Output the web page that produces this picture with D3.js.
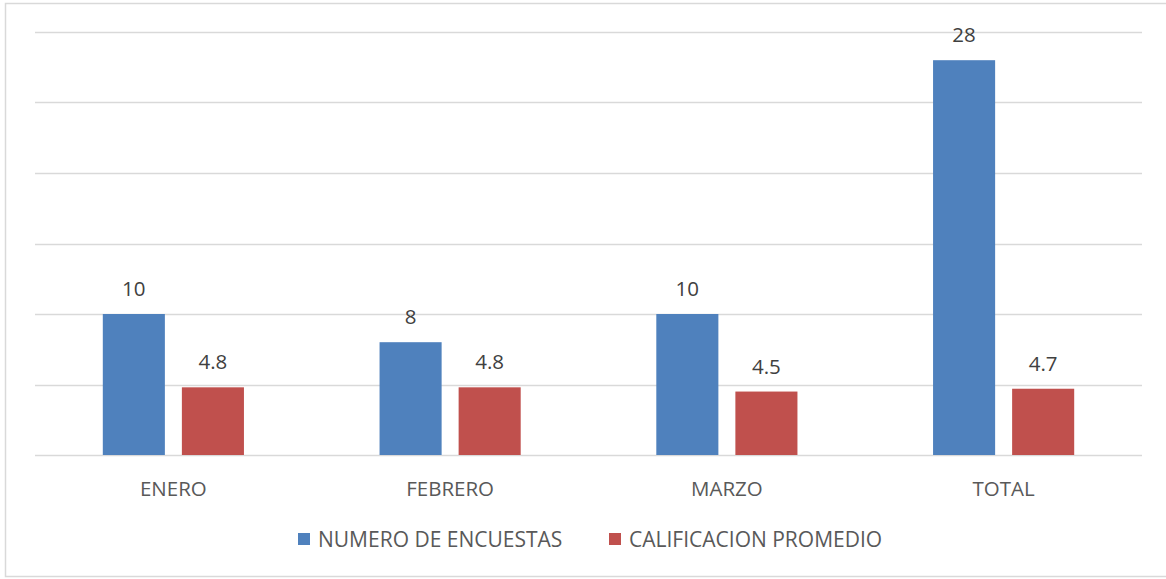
<!DOCTYPE html>
<html>
<head>
<meta charset="utf-8">
<script src="https://cdn.jsdelivr.net/npm/d3@7"></script>
<style>
  body { margin: 0; background: #fff; }
  text { font-family: "Open Sans", "Liberation Sans", sans-serif; }
</style>
</head>
<body>
<div id="pane"></div>
<script>
const categories = ["ENERO", "FEBRERO", "MARZO", "TOTAL"];
const seriesNames = ["NUMERO DE ENCUESTAS", "CALIFICACION PROMEDIO"];
const encuestas = [10, 8, 10, 28];
const calificacion = [4.8, 4.8, 4.5, 4.7];
const labelsEnc = ["10", "8", "10", "28"];
const labelsCal = ["4.8", "4.8", "4.5", "4.7"];
const yTicks = [0, 5, 10, 15, 20, 25, 30];
const colors = ["#4F81BD", "#C0504D"];

const width = 1166, height = 579;
const margin = { left: 35, right: 24, top: 32, bottom: 124 };

const svg = d3.select("#pane").append("svg")
  .attr("width", width)
  .attr("height", height);

// chart border
svg.append("rect")
  .attr("x", 5.5).attr("y", 3.5)
  .attr("width", width).attr("height", 573)
  .attr("fill", "none")
  .attr("stroke", "#D9D9D9")
  .attr("stroke-width", 1.5);

const x = d3.scaleBand()
  .domain(categories)
  .range([margin.left, width - margin.right])
  .paddingInner(0.49)
  .paddingOuter(0.245);

const xSub = d3.scaleBand()
  .domain([0, 1])
  .range([0, x.bandwidth()])
  .paddingInner(0.215);

const y = d3.scaleLinear()
  .domain([0, 30])
  .range([455, 32]);

// gridlines
svg.append("g")
  .selectAll("line")
  .data(yTicks)
  .join("line")
  .attr("x1", margin.left)
  .attr("x2", width - margin.right)
  .attr("y1", d => Math.round(y(d)) + 0.5)
  .attr("y2", d => Math.round(y(d)) + 0.5)
  .attr("stroke", "#D9D9D9")
  .attr("stroke-width", 1.5);

const rows = categories.map((c, i) => ({
  cat: c,
  vals: [
    { s: 0, v: encuestas[i], label: labelsEnc[i] },
    { s: 1, v: calificacion[i], label: labelsCal[i] }
  ]
}));

const groups = svg.append("g")
  .selectAll("g")
  .data(rows)
  .join("g")
  .attr("transform", d => `translate(${x(d.cat)},0)`);

groups.selectAll("rect")
  .data(d => d.vals)
  .join("rect")
  .attr("x", d => xSub(d.s))
  .attr("width", xSub.bandwidth())
  .attr("y", d => y(d.v))
  .attr("height", d => y(0) - y(d.v))
  .attr("fill", d => colors[d.s]);

groups.selectAll("text")
  .data(d => d.vals)
  .join("text")
  .attr("x", d => xSub(d.s) + xSub.bandwidth() / 2)
  .attr("y", d => y(d.v) - 18)
  .attr("text-anchor", "middle")
  .attr("font-size", 20.5)
  .attr("fill", "#404040")
  .text(d => d.label);

// category axis labels
svg.append("g")
  .selectAll("text")
  .data(categories)
  .join("text")
  .attr("x", d => x(d) + x.bandwidth() / 2)
  .attr("y", 496)
  .attr("text-anchor", "middle")
  .attr("font-size", 20.5)
  .attr("fill", "#595959")
  .text(d => d);

// legend
const legendX = [298, 609];
const legend = svg.append("g")
  .selectAll("g")
  .data(seriesNames)
  .join("g")
  .attr("transform", (d, i) => `translate(${legendX[i]},533)`);

legend.append("rect")
  .attr("width", 12).attr("height", 12)
  .attr("fill", (d, i) => colors[i]);

legend.append("text")
  .attr("x", 20)
  .attr("y", 14)
  .attr("font-size", 21)
  .attr("fill", "#595959")
  .text(d => d);
</script>
</body>
</html>
